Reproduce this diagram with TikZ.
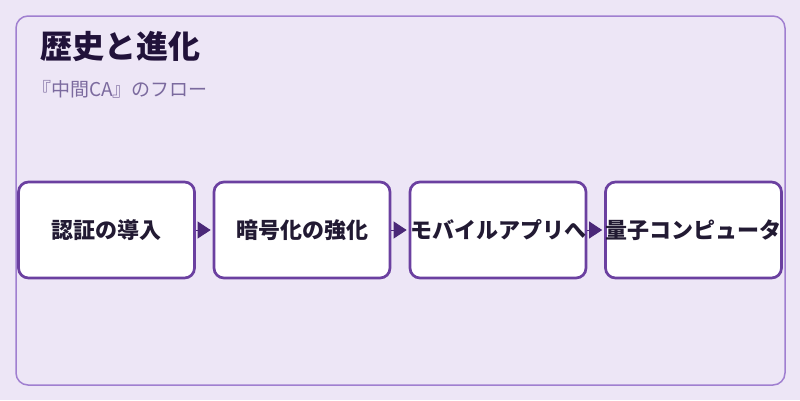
\documentclass[tikz,border=0pt]{standalone}
\usepackage{fontspec}
\setmainfont{Noto Sans CJK JP}
\usetikzlibrary{arrows.meta}
\definecolor{bgc}{HTML}{EDE6F6}
\definecolor{framec}{HTML}{A07FD0}
\definecolor{boxc}{HTML}{6B40A0}
\definecolor{arrc}{HTML}{4B2878}
\definecolor{titlec}{HTML}{21123A}
\definecolor{subc}{HTML}{7B6A9E}
\definecolor{labc}{HTML}{221A33}
\tikzset{
  stepbox/.style={draw=boxc, line width=2.7pt, fill=white, rounded corners=10pt,
    minimum width=176pt, minimum height=96pt, inner sep=0pt,
    font=\fontsize{22}{26}\selectfont\bfseries, text=labc},
  flow/.style={draw=arrc, fill=arrc, line width=1pt, -{Triangle[length=13pt,width=17pt]}}
}
\begin{document}
\begin{tikzpicture}[x=1pt,y=-1pt]
\useasboundingbox (0,0) rectangle (800,400);
\fill[bgc] (0,0) rectangle (800,400);
\draw[framec, line width=1.5pt, rounded corners=12pt] (16,16) rectangle (785,385);
\node[anchor=base west, inner sep=0pt, text=titlec, font=\fontsize{32}{38}\selectfont\bfseries] (title) at (40,58) {歴史と進化};
\node[anchor=base west, inner sep=0pt, text=subc, font=\fontsize{19}{23}\selectfont] (sub) at (32,96) {『中間CA』のフロー};
\node[stepbox] (b1) at (106.5,230) {認証の導入};
\node[stepbox] (b2) at (302,230) {暗号化の強化};
\node[stepbox] (b3) at (498,230) {モバイルアプリへ};
\node[stepbox] (b4) at (693.5,230) {量子コンピュータ};
\draw[flow] (b1.east) -- ([xshift=-2pt]b2.west);
\draw[flow] (b2.east) -- ([xshift=-2pt]b3.west);
\draw[flow] (b3.east) -- ([xshift=-2pt]b4.west);
\end{tikzpicture}
\end{document}
